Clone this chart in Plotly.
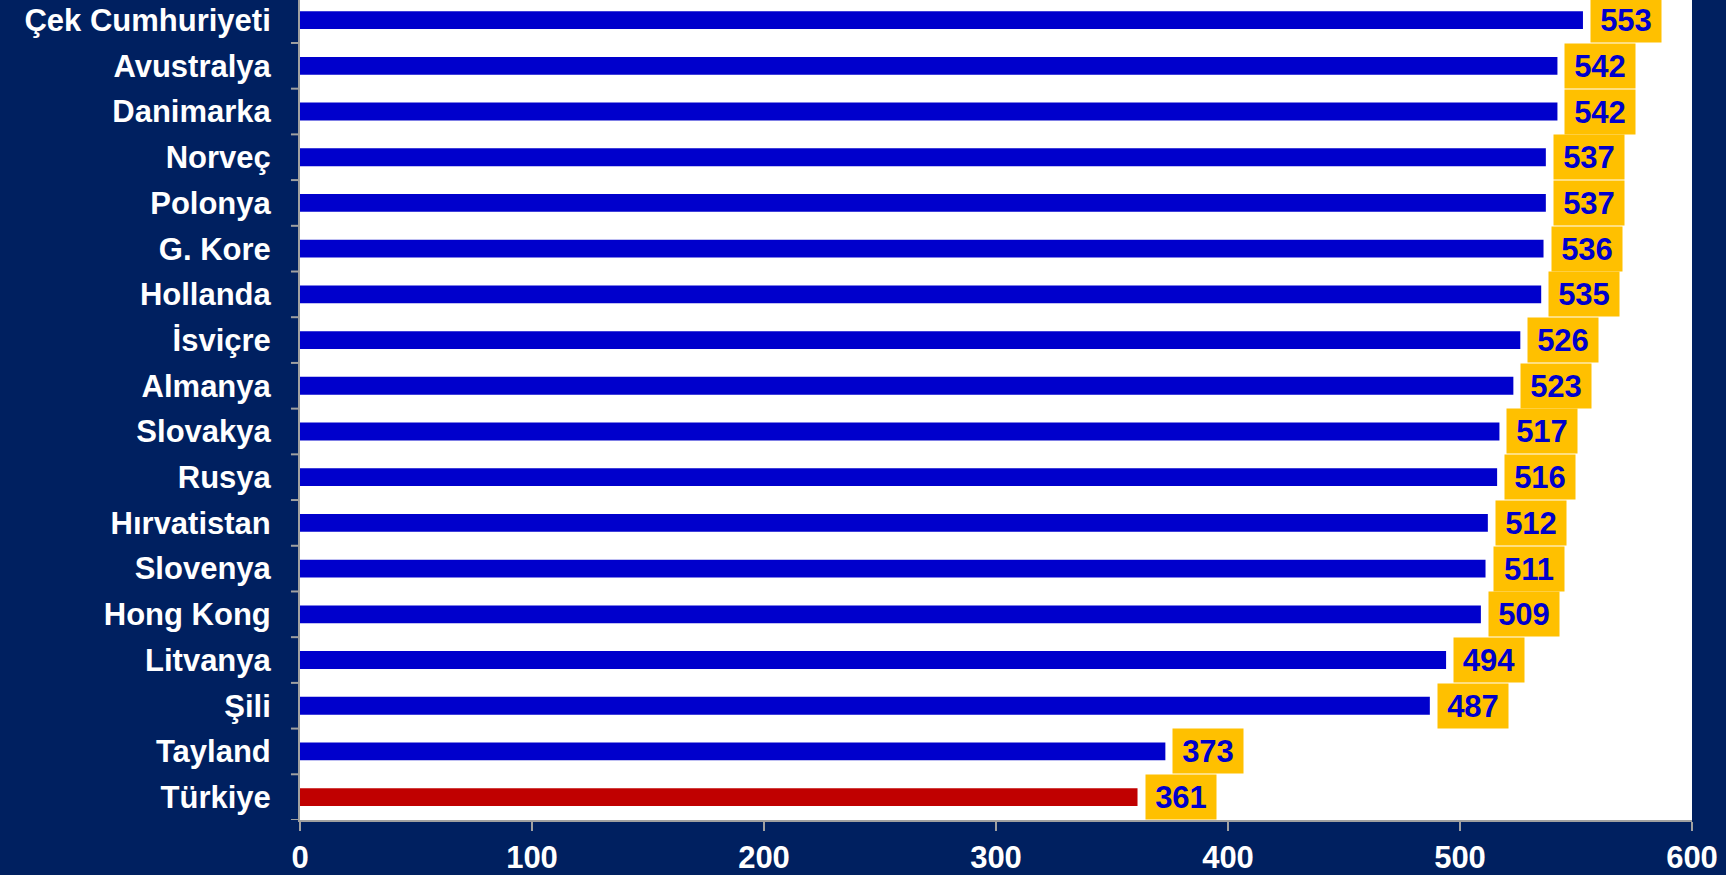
import plotly.graph_objects as go

countries = ["Çek Cumhuriyeti", "Avustralya", "Danimarka", "Norveç", "Polonya", "G. Kore",
             "Hollanda", "İsviçre", "Almanya", "Slovakya", "Rusya", "Hırvatistan",
             "Slovenya", "Hong Kong", "Litvanya", "Şili", "Tayland", "Türkiye"]
scores = [553, 542, 542, 537, 537, 536, 535, 526, 523, 517, 516, 512, 511, 509, 494, 487, 373, 361]
x_ticks = [0, 100, 200, 300, 400, 500, 600]

NAVY = "#002060"
BLUE = "#0000CC"
RED = "#C00000"
GOLD = "#FFC000"

colors = [RED if c == "Türkiye" else BLUE for c in countries]

fig = go.Figure(go.Bar(
    x=scores, y=list(range(len(countries))), orientation="h",
    marker=dict(color=colors, line=dict(width=0)),
    width=0.39,
))

for i, v in enumerate(scores):
    fig.add_annotation(
        x=v, y=i, xref="x", yref="y", text=f"<b>{v}</b>", showarrow=False,
        xanchor="left", xshift=7, yshift=0, width=68, height=42, bgcolor=GOLD,
        borderpad=1, font=dict(family="Liberation Sans, Arial", size=31, color=BLUE),
    )

fig.update_layout(
    width=1726, height=875,
    margin=dict(l=300, r=34, t=0, b=55),
    paper_bgcolor=NAVY, plot_bgcolor="white",
    showlegend=False,
    font=dict(family="Liberation Sans, Arial", color="white"),
)
fig.update_xaxes(
    range=[0, 600], tickvals=x_ticks, ticktext=[f"<b>{t}</b>" for t in x_ticks],
    showgrid=False, zeroline=False, showline=True, linecolor="#A0A0A0", linewidth=2,
    ticks="outside", ticklen=9, tickcolor="#A0A0A0", tickwidth=2,
    tickfont=dict(size=31, color="white"), fixedrange=True,
)
fig.update_yaxes(
    range=[len(countries) - 0.5, -0.44], tickmode="array",
    tickvals=list(range(len(countries))),
    ticktext=[f"<b>{c}</b>" for c in countries],
    showgrid=False, zeroline=False, showline=True, linecolor="#A0A0A0", linewidth=2,
    ticks="", tickfont=dict(size=31, color="white"), ticklabelstandoff=21,
)
# boundary tick marks between categories
for b in [i + 0.5 for i in range(0, len(countries))]:
    fig.add_shape(type="line", xref="paper", yref="y", x0=-0.0065, x1=0, y0=b, y1=b,
                  line=dict(color="#A0A0A0", width=2))

fig.write_html("out.html")
